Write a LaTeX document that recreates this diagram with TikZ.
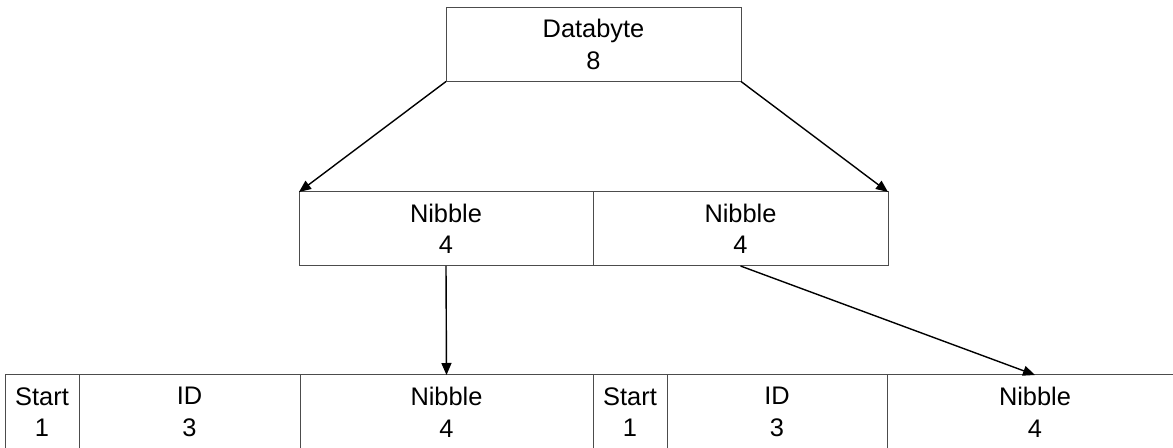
\documentclass[tikz,border=0pt]{standalone}
\usepackage{fontspec}
\setmainfont{Liberation Sans}
\usetikzlibrary{arrows.meta}

\begin{document}
\begin{tikzpicture}[x=0.5pt,y=-0.5pt,
    field/.style={draw=black!70,line width=0.5pt,rectangle,outer sep=0pt,inner sep=0pt,
      minimum height=37pt,align=center,font=\fontsize{12.7}{15.8}\selectfont},
    link/.style={line width=0.7pt,-{Triangle[length=6pt,width=5pt]}}]
    \useasboundingbox (0,0) rectangle (1173,448);

    \node[field,minimum width=147.5pt] (byte) at (593.5,44.5) {Databyte\\8};

    \node[field,minimum width=147pt] (nibL) at (446,229) {Nibble\\4};
    \node[field,minimum width=147.5pt] (nibR) at (740.5,229) {Nibble\\4};

    \node[field,minimum width=37pt] (startA) at (42,412) {Start\\1}; % first frame
    \node[field,minimum width=110.5pt] (idA) at (189.5,412) {ID\\3};
    \node[field,minimum width=146.5pt] (nibA) at (446.5,412) {Nibble\\4};
    \node[field,minimum width=37pt] (startB) at (630,412) {Start\\1}; % second frame
    \node[field,minimum width=110pt] (idB) at (777,412) {ID\\3};
    \node[field,minimum width=148pt] (nibB) at (1035,412) {Nibble\\4};

    \draw[link] (byte.south west) -- (nibL.north west);
    \draw[link] (byte.south east) -- (nibR.north east);
    \draw[link] (nibL.south) -- (nibA.north);
    \draw[link] (nibR.south) -- (nibB.north);
\end{tikzpicture}
\end{document}
